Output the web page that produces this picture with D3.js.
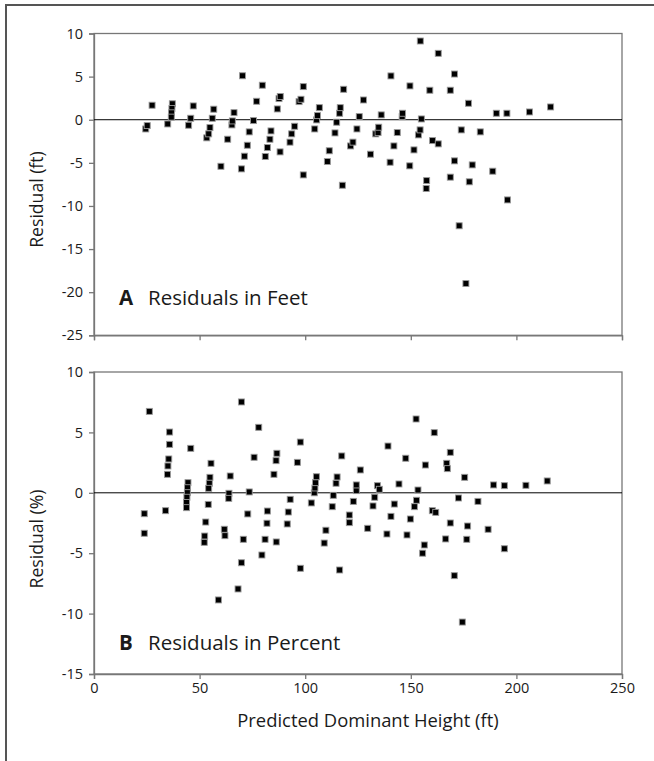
<!DOCTYPE html>
<html>
<head>
<meta charset="utf-8">
<script src="https://cdn.jsdelivr.net/npm/d3@7"></script>
<style>
  body { margin: 0; background: #fff; }
  svg { display: block; }
  text { font-family: "Open Sans", sans-serif; fill: #1a1a1a; }
</style>
</head>
<body>
<svg id="chart" width="654" height="761"></svg>
<script>
// predicted dominant height (ft) and residuals
const heightA = [24.5,25.2,27.5,34.9,37.1,36.9,36.7,36.6,44.8,45.8,47.0,53.4,54.3,54.9,56.0,56.7,60.1,63.3,65.3,65.5,
  66.3,69.8,70.3,71.2,72.6,73.5,75.5,77.0,79.7,81.1,82.1,83.3,83.8,86.8,87.6,88.2,88.1,92.8,93.6,95.0,
  97.1,98.0,99.1,99.1,104.5,105.4,105.8,106.7,110.5,111.4,114.1,114.9,116.3,116.6,117.6,118.2,121.5,122.6,124.5,125.6,
  127.6,130.9,133.4,134.5,134.8,136.0,140.2,140.6,142.0,143.6,145.9,146.1,149.5,149.6,151.5,153.6,154.4,154.5,155.0,157.3,
  157.5,159.0,160.3,163.0,163.0,168.7,168.7,170.7,170.7,172.9,173.9,176.1,177.3,177.7,179.1,182.9,188.8,190.5,195.5,195.8,
  206.2,216.2];
const residFeet = [-1.07,-0.68,1.68,-0.49,1.85,1.3,0.8,0.3,-0.64,0.17,1.6,-2.1,-1.64,-0.91,0.17,1.22,-5.4,-2.26,-0.6,-0.14,
  0.82,-5.7,5.1,-4.23,-2.96,-1.41,-0.1,2.14,4.0,-4.27,-3.23,-2.26,-1.3,1.25,2.45,2.7,-3.73,-2.6,-1.64,-0.76,
  2.1,2.37,3.84,-6.4,-1.07,-0.02,0.48,1.4,-4.85,-3.6,-1.53,-0.29,0.75,1.4,-7.6,3.53,-3.04,-2.6,-1.07,0.36,
  2.29,-4.0,-1.64,-1.49,-0.87,0.56,-4.93,5.08,-3.04,-1.49,0.36,0.75,-5.35,3.92,-3.5,-1.76,-1.18,9.13,0.09,-7.98,
  -7.06,3.42,-2.42,-2.8,7.7,3.42,-6.66,5.3,-4.77,-12.3,-1.18,-19.0,1.91,-7.2,-5.24,-1.41,-5.97,0.75,0.75,-9.3,
  0.9,1.48];

const heightB = [26.2,23.8,23.8,33.9,35.8,35.8,35.4,35.0,34.8,45.8,44.5,44.3,44.2,44.0,43.8,43.8,54.1,52.9,52.4,52.2,
  55.4,54.9,54.6,54.3,58.9,61.7,62.0,63.9,63.8,64.5,68.2,69.8,69.8,70.7,72.8,73.5,75.8,78.0,79.5,81.0,
  82.1,81.9,85.2,86.2,86.6,86.3,91.5,92.0,92.9,96.3,97.7,97.7,102.9,104.3,104.6,104.9,105.3,109.0,109.8,112.8,
  113.3,114.6,115.1,116.3,117.3,120.9,120.9,122.8,124.2,124.2,126.1,129.6,132.1,132.9,134.2,135.1,138.7,139.2,140.6,142.2,
  144.4,147.6,148.2,149.8,151.7,152.5,152.7,153.4,155.6,156.4,156.9,160.2,161.8,161.1,166.5,167.0,167.3,168.7,168.7,170.6,
  172.6,174.4,175.5,176.5,176.9,181.8,186.6,189.2,194.3,194.3,204.5,214.6];
const residPct = [6.74,-1.73,-3.35,-1.48,5.03,4.01,2.8,2.22,1.53,3.68,0.84,0.42,0.01,-0.37,-0.8,-1.23,-0.96,-2.42,-3.58,-4.1,
  2.44,1.28,0.79,0.37,-8.87,-3.02,-3.55,-0.04,-0.46,1.39,-7.96,7.52,-5.79,-3.85,-1.75,0.07,2.94,5.42,-5.15,-3.85,
  -1.51,-2.52,1.53,2.66,3.27,-4.07,-2.58,-1.59,-0.54,2.52,4.2,-6.25,-0.84,0.0,0.4,0.84,1.33,-4.16,-3.1,-1.15,
  -0.21,0.79,1.31,-6.39,3.05,-2.47,-1.84,-0.71,0.18,0.65,1.89,-2.94,-1.09,-0.37,0.59,0.29,-3.41,3.87,-1.95,-0.93,
  0.73,2.86,-3.49,-2.17,-1.15,6.11,-0.62,0.23,-5.0,-4.32,2.3,-1.48,-1.62,4.98,-3.82,2.44,2.0,3.35,-2.5,-6.86,
  -0.43,-10.7,1.28,-3.85,-2.75,-0.71,-3.02,0.65,0.59,-4.63,0.62,0.98];

const xTicks = [0, 50, 100, 150, 200, 250];
const yTicksA = [-25, -20, -15, -10, -5, 0, 5, 10];
const yTicksB = [-15, -10, -5, 0, 5, 10];

const svg = d3.select('#chart');
const left = 94, right = 622;

// outer frame, runs off the right and bottom edge
svg.append('rect')
  .attr('x', 6).attr('y', 5).attr('width', 700).attr('height', 800)
  .attr('fill', '#fff').attr('stroke', '#555').attr('stroke-width', 2);

const x = d3.scaleLinear().domain([0, 250]).range([left, right]);

function panel(opts) {
  const y = d3.scaleLinear().domain(opts.yDomain).range([opts.bottom, opts.top]);
  const g = svg.append('g');

  g.append('rect')
    .attr('x', left).attr('y', opts.top)
    .attr('width', right-left).attr('height', opts.bottom-opts.top)
    .attr('fill', 'none').attr('stroke', '#777').attr('stroke-width', 1.3);

  const yAxis = g.append('g')
    .attr('transform', `translate(${left},0)`)
    .call(d3.axisLeft(y).tickValues(opts.yTicks).tickFormat(d => String(d)).tickSize(5).tickPadding(6));
  const xAxis = g.append('g')
    .attr('transform', `translate(0,${opts.bottom})`)
    .call(d3.axisBottom(x).tickValues(xTicks).tickFormat(opts.showX ? (d => String(d)) : '').tickSize(5).tickPadding(4));
  [yAxis, xAxis].forEach(a => {
    a.select('.domain').attr('stroke', '#777').attr('stroke-width', 1.3);
    a.selectAll('.tick line').attr('stroke', '#777').attr('stroke-width', 1.3);
    a.selectAll('.tick text').style('font-size', '14.5px').style('font-family', '"Open Sans", sans-serif').attr('fill', '#1a1a1a');
  });

  // zero reference line
  g.append('line')
    .attr('x1', left).attr('x2', right)
    .attr('y1', y(0)).attr('y2', y(0))
    .attr('stroke', '#000').attr('stroke-width', 1);

  const pts = opts.xs.map((v, i) => ({x: v, y: opts.ys[i]}));
  g.selectAll('.pt').data(pts).enter().append('rect')
    .attr('class', 'pt')
    .attr('x', d => x(d.x)-3).attr('y', d => y(d.y)-3)
    .attr('width', 6).attr('height', 6)
    .attr('fill', '#000').attr('stroke', '#999').attr('stroke-width', 0.9);

  g.append('text')
    .attr('transform', `translate(43,${opts.labelY}) rotate(-90)`)
    .attr('text-anchor', 'middle')
    .style('font-size', '17.6px')
    .text(opts.yLabel);

  const t = g.append('text').attr('y', opts.tagY).style('font-size', '20.5px');
  t.append('tspan').attr('x', 119).style('font-weight', 'bold').text(opts.tag);
  t.append('tspan').attr('x', 148).text(opts.title);
  return y;
}

panel({top: 33.5, bottom: 335.3, yDomain: [-25, 10], yTicks: yTicksA, xs: heightA, ys: residFeet,
  showX: false, yLabel: 'Residual (ft)', labelY: 199.5, tag: 'A', title: 'Residuals in Feet', tagY: 305});
panel({top: 372, bottom: 674, yDomain: [-15, 10], yTicks: yTicksB, xs: heightB, ys: residPct,
  showX: true, yLabel: 'Residual (%)', labelY: 539, tag: 'B', title: 'Residuals in Percent', tagY: 650});

svg.append('text')
  .attr('x', 368).attr('y', 726.7)
  .attr('text-anchor', 'middle')
  .style('font-size', '18.4px')
  .text('Predicted Dominant Height (ft)');
</script>
</body>
</html>
